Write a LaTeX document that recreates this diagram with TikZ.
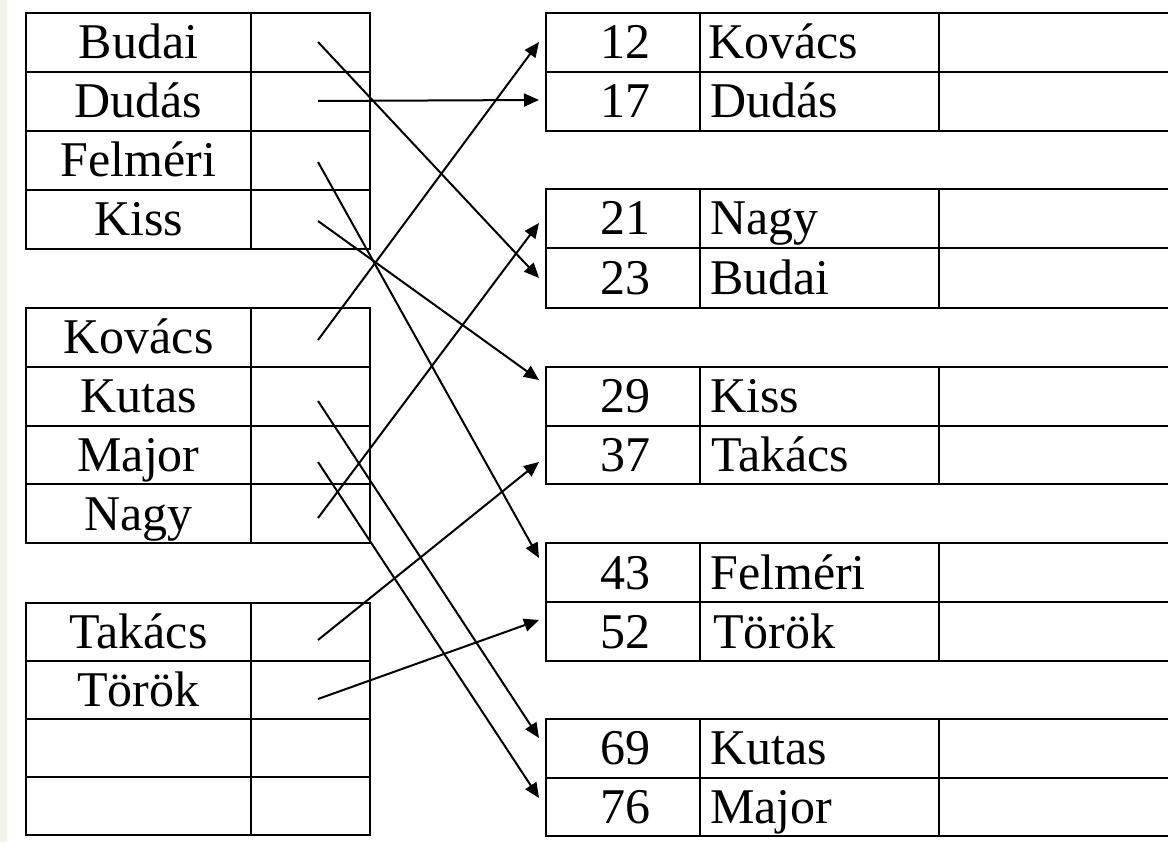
\documentclass[tikz,border=0pt]{standalone}
\usepackage{fontspec}
\setmainfont{Liberation Serif}
\usetikzlibrary{arrows.meta}
\definecolor{stripcol}{HTML}{F1F5E9}
\begin{document}
\begin{tikzpicture}[x=1pt,y=-1pt,
  grid/.style={line width=2pt,black},
  ptr/.style={line width=2pt,-{Triangle[length=15pt,width=13pt]}},
  txt/.style={font=\fontsize{50}{56}\selectfont,inner sep=0pt,anchor=base},
  ltxt/.style={txt,anchor=base west},
  ]
\useasboundingbox (0,0) rectangle (1168,842);
\clip (0,0) rectangle (1168,842);
\fill[stripcol] (0,0) rectangle (7,842);
% left tables
\foreach \t/\b in {13/249,308/543,603/835}{
  \draw[grid] (26,\t) rectangle (370,\b);
  \draw[grid] (251,\t) -- (251,\b);
  \foreach \k in {1,2,3} \draw[grid] (26,{\t+\k*(\b-\t)/4}) -- (370,{\t+\k*(\b-\t)/4});
}
% right tables
\foreach \t/\b in {13/131,189/308,367/484,543/661,719/836}{
  \draw[grid] (1180,\t) -- (546,\t) -- (546,\b) -- (1180,\b);
  \draw[grid] (546,{(\t+\b)/2}) -- (1180,{(\t+\b)/2});
  \draw[grid] (700,\t) -- (700,\b);
  \draw[grid] (939,\t) -- (939,\b);
}
% left texts
\node[txt] (lBudai) at (138.5,59) {Budai};
\node[txt] (lDudas) at (138.5,118) {Dudás};
\node[txt] (lFelmeri) at (138.5,177) {Felméri};
\node[txt] (lKiss) at (138.5,236) {Kiss};
\node[txt] (lKovacs) at (138.5,354) {Kovács};
\node[txt] (lKutas) at (138.5,412.5) {Kutas};
\node[txt] (lMajor) at (138.5,471.5) {Major};
\node[txt] (lNagy) at (138.5,530) {Nagy};
\node[txt] (lTakacs) at (138.5,648.5) {Takács};
\node[txt] (lTorok) at (138.5,706.5) {Török};
% right texts
\node[txt] (n12) at (625,59) {12};
\node[ltxt] (r12) at (708,59) {Kovács};
\node[txt] (n17) at (625,118) {17};
\node[ltxt] (r17) at (710,118) {Dudás};
\node[txt] (n21) at (625,235) {21};
\node[ltxt] (r21) at (710,235) {Nagy};
\node[txt] (n23) at (625,294.5) {23};
\node[ltxt] (r23) at (710,294.5) {Budai};
\node[txt] (n29) at (625,412.5) {29};
\node[ltxt] (r29) at (710,412.5) {Kiss};
\node[txt] (n37) at (625,471.5) {37};
\node[ltxt] (r37) at (711,471.5) {Takács};
\node[txt] (n43) at (625,589) {43};
\node[ltxt] (r43) at (710,589) {Felméri};
\node[txt] (n52) at (625,648) {52};
\node[ltxt] (r52) at (713,648) {Török};
\node[txt] (n69) at (625,764.5) {69};
\node[ltxt] (r69) at (710,764.5) {Kutas};
\node[txt] (n76) at (625,823.5) {76};
\node[ltxt] (r76) at (710,823.5) {Major};
% pointer start coordinates
\coordinate (sBudai) at (318,42);
\coordinate (sDudas) at (318,101);
\coordinate (sFelmeri) at (318,162);
\coordinate (sKiss) at (318,221);
\coordinate (sKovacs) at (318,340);
\coordinate (sKutas) at (318,401);
\coordinate (sMajor) at (318,462);
\coordinate (sNagy) at (318,518);
\coordinate (sTakacs) at (318,640);
\coordinate (sTorok) at (318,699);
% pointer targets
\coordinate (t12) at (539,42);
\coordinate (t17) at (539,100);
\coordinate (t21) at (539,223);
\coordinate (t23) at (539,278);
\coordinate (t29) at (539,380);
\coordinate (t37) at (539,462);
\coordinate (t43) at (539,558);
\coordinate (t52) at (539,620);
\coordinate (t69) at (539,738);
\coordinate (t76) at (539,798);
\draw[ptr] (sBudai) -- (t23);
\draw[ptr] (sDudas) -- (t17);
\draw[ptr] (sFelmeri) -- (t43);
\draw[ptr] (sKiss) -- (t29);
\draw[ptr] (sKovacs) -- (t12);
\draw[ptr] (sKutas) -- (t69);
\draw[ptr] (sMajor) -- (t76);
\draw[ptr] (sNagy) -- (t21);
\draw[ptr] (sTakacs) -- (t37);
\draw[ptr] (sTorok) -- (t52);
\end{tikzpicture}
\end{document}
